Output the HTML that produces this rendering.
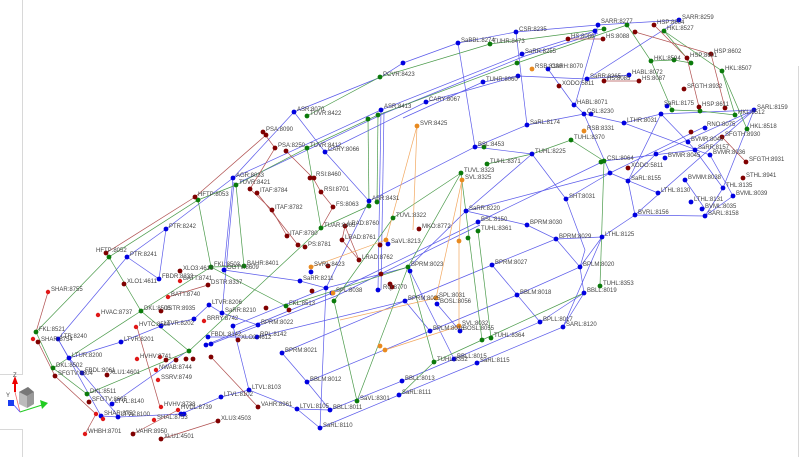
<!DOCTYPE html>
<html><head><meta charset="utf-8"><style>
html,body{margin:0;padding:0;background:#fff;width:800px;height:457px;overflow:hidden}
svg{display:block}
text{font-family:"Liberation Sans",sans-serif;font-size:6px;fill:#444}
.b{stroke:#5a5aea;stroke-width:.7;fill:none}
.g{stroke:#4a9a4a;stroke-width:.7;fill:none}
.r{stroke:#b05050;stroke-width:.7;fill:none}
.o{stroke:#f2a860;stroke-width:.7;fill:none}
.nb{fill:#0000e0}.ng{fill:#0a7a0a}.nr{fill:#800000}.nR{fill:#e01818}.no{fill:#e88a20}
.nb circle,.ng circle,.nr circle,.no circle{r:2.4px}
</style></head><body>
<svg width="800" height="457" viewBox="0 0 800 457" xmlns="http://www.w3.org/2000/svg">
<g stroke="#d8d8d8" stroke-width="1" fill="none">
<path d="M22.5 0 V374.5 H0"/>
<path d="M0 429.5 H22.5 V457"/>
<path d="M798.5 66 V457"/>
</g>
<g>
<polygon points="19,392 28,387 34,392 34,404 27,408 19,404" fill="#bbb"/>
<polygon points="19,392 28,387 34,392 27,396" fill="#777"/>
<polygon points="27,396 34,392 34,404 27,408" fill="#999"/>
<line x1="15" y1="392" x2="15" y2="382" stroke="#e00" stroke-width="2"/>
<polygon points="12,384 18,384 15,376" fill="#e00"/>
<line x1="15" y1="392" x2="20" y2="412" stroke="#e66" stroke-width=".8"/>
<line x1="20" y1="412" x2="42" y2="405" stroke="#2c2" stroke-width="1"/>
<polygon points="40,400 48,403 42,409" fill="#2c2"/>
<line x1="13" y1="404" x2="20" y2="412" stroke="#55f" stroke-width=".8"/>
<rect x="8" y="400" width="6" height="6" fill="#1a3cf0"/>
<text x="13" y="377">Z</text><text x="6" y="397">Y</text>
</g>

<g class="b">
<polyline points="294,112 381,77 403,63 458,43 516,32 598,25 679,20"/>
<polyline points="58,339 127,257 166,229 233,178 294,112"/>
<polyline points="233,178 381,110 522,54 595,31"/>
<polyline points="240,182 385,113 525,56 598,33"/>
<polyline points="325,152 426,102 518,76 587,79 629,75"/>
<polyline points="403,118 483,82 518,76"/>
<polyline points="294,112 325,152 369,201 475,147 527,125 584,114 624,123 661,114 754,110"/>
<polyline points="369,201 326,288 320,428"/>
<line x1="381" y1="110" x2="378" y2="290"/>
<line x1="384" y1="112" x2="381" y2="290"/>
<line x1="233" y1="178" x2="224" y2="270"/>
<line x1="234" y1="182" x2="222" y2="313"/>
<polyline points="166,229 159,279 127,257"/>
<polyline points="69,358 121,342 161,326 194,319 209,305 222,313 258,325"/>
<polyline points="58,339 69,358 82,373 119,417"/>
<line x1="58" y1="339" x2="101" y2="416"/>
<polyline points="224,270 300,281 326,288 409,267 466,211 610,173 704,127"/>
<polyline points="206,345 332,293 478,222 604,161 695,150 754,110"/>
<polyline points="211,344 336,296 480,225"/>
<polyline points="233,326 326,288"/>
<polyline points="208,337 257,337 405,301"/>
<polyline points="282,353 405,301 492,265 556,239 602,237 635,215"/>
<polyline points="307,382 430,331 517,295 580,267 602,237"/>
<polyline points="330,410 402,381 454,359 540,322 584,293"/>
<polyline points="320,428 399,395 477,363 563,327 602,237"/>
<polyline points="563,327 584,293 580,267 556,239 527,225 466,211"/>
<polyline points="492,265 540,322"/>
<polyline points="410,271 454,359"/>
<polyline points="405,301 430,331"/><polyline points="437,304 460,331"/>
<polyline points="233,326 249,390 297,409 320,428"/>
<polyline points="282,353 307,382 330,410"/>
<polyline points="297,409 330,410"/>
<polyline points="249,390 221,397 181,414 119,417 101,416"/>
<polyline points="112,404 186,352"/>
<polyline points="458,43 475,147"/>
<polyline points="516,32 527,125"/>
<polyline points="598,25 575,105 584,114 610,173"/>
<polyline points="532,154 475,147"/>
<polyline points="466,211 532,154 566,199 610,173"/>
<polyline points="566,199 585,250 580,267"/>
<polyline points="628,181 635,215 705,216 733,196"/>
<polyline points="628,181 661,114"/>
<polyline points="658,193 610,173"/>
<polyline points="685,180 705,209"/>
<polyline points="688,142 695,150 723,188 705,216"/>
<polyline points="754,110 723,188"/>
<polyline points="754,110 635,215"/>
<polyline points="754,110 656,154 628,181"/>
<polyline points="624,123 710,155 733,196"/>
<polyline points="661,114 688,142"/>
<polyline points="587,79 679,20"/>
<polyline points="548,69 574,105"/>
</g>

<g class="g">
<polyline points="307,116 380,77 490,44 604,29"/>
<polyline points="236,185 307,148 378,115 517,63 627,25"/>
<polyline points="36,332 109,257 198,200 236,185"/>
<polyline points="36,332 53,368 87,394"/>
<polyline points="109,257 141,311 189,351"/>
<polyline points="53,368 141,311 211,267 244,266"/>
<polyline points="198,200 211,267 286,306"/>
<polyline points="236,185 244,266"/>
<polyline points="87,394 189,351"/>
<polyline points="307,148 321,228"/>
<polyline points="368,119 369,206"/><polyline points="378,115 377,202"/>
<polyline points="189,351 321,228 369,206"/>
<polyline points="334,301 357,401"/>
<polyline points="357,401 408,267 461,173"/>
<polyline points="400,395 434,362 482,340 584,293"/>
<polyline points="461,173 393,218 334,301"/>
<polyline points="461,173 482,340"/><polyline points="478,231 491,338"/>
<polyline points="487,164 532,154 571,140 604,161"/>
<polyline points="604,161 600,286"/>
<polyline points="408,267 434,362"/>
<polyline points="627,25 651,61 672,110"/>
<polyline points="664,31 722,71 747,129"/>
<polyline points="664,31 691,63 674,60 651,61"/>
<polyline points="672,110 700,111 735,115 722,71"/>
<polyline points="286,306 408,267"/>
</g>

<g class="r">
<polyline points="106,253 195,197 266,135"/>
<polyline points="263,132 275,148 250,189 272,210 287,236"/>
<polyline points="257,193 298,245"/>
<polyline points="286,151 313,178 321,192 333,207 321,228"/>
<polyline points="345,226 342,240 359,260 345,226"/>
<polyline points="568,39 603,39"/><polyline points="604,81 639,81"/>
<polyline points="635,32 711,54 725,108"/>
<polyline points="654,25 687,58 699,107"/>
<polyline points="722,137 746,162"/>
<polyline points="48,292 36,332"/>
<polyline points="38,342 55,376 96,414"/>
<polyline points="137,327 160,407"/>
<polyline points="208,285 168,297"/>
<polyline points="211,357 258,407"/>
<polyline points="133,434 178,410"/>
<polyline points="85,434 96,414"/>
<polyline points="161,439 218,421"/>
</g>

<g class="o">
<polyline points="417,126 386,240 311,267"/>
<polyline points="417,126 413,230"/>
<polyline points="462,180 459,241 459,326"/>
<polyline points="462,180 436,298"/>
<polyline points="340,320 436,298"/>
<polyline points="385,350 459,326"/>
</g>

<g class="nb">
<circle cx="294" cy="112" r="2.4"/><circle cx="381" cy="110" r="2.4"/><circle cx="325" cy="152" r="2.4"/>
<circle cx="233" cy="178" r="2.4"/><circle cx="369" cy="201" r="2.4"/><circle cx="166" cy="229" r="2.4"/>
<circle cx="403" cy="63" r="2.4"/><circle cx="458" cy="43" r="2.4"/><circle cx="516" cy="32" r="2.4"/>
<circle cx="598" cy="25" r="2.4"/><circle cx="679" cy="20" r="2.4"/><circle cx="595" cy="31" r="2.4"/>
<circle cx="522" cy="54" r="2.4"/><circle cx="548" cy="69" r="2.4"/><circle cx="518" cy="76" r="2.4"/>
<circle cx="483" cy="82" r="2.4"/><circle cx="587" cy="79" r="2.4"/><circle cx="629" cy="75" r="2.4"/>
<circle cx="426" cy="102" r="2.4"/><circle cx="574" cy="105" r="2.4"/><circle cx="584" cy="114" r="2.4"/>
<circle cx="591" cy="114" r="2.4"/><circle cx="624" cy="123" r="2.4"/><circle cx="661" cy="114" r="2.4"/>
<circle cx="667" cy="106" r="2.4"/><circle cx="754" cy="110" r="2.4"/><circle cx="527" cy="125" r="2.4"/>
<circle cx="705" cy="128" r="2.4"/><circle cx="688" cy="142" r="2.4"/><circle cx="695" cy="150" r="2.4"/>
<circle cx="656" cy="154" r="2.4"/><circle cx="665" cy="158" r="2.4"/><circle cx="710" cy="155" r="2.4"/>
<circle cx="475" cy="147" r="2.4"/><circle cx="532" cy="154" r="2.4"/><circle cx="610" cy="173" r="2.4"/>
<circle cx="628" cy="181" r="2.4"/><circle cx="685" cy="180" r="2.4"/><circle cx="566" cy="199" r="2.4"/>
<circle cx="658" cy="193" r="2.4"/><circle cx="723" cy="188" r="2.4"/><circle cx="733" cy="196" r="2.4"/>
<circle cx="691" cy="202" r="2.4"/><circle cx="702" cy="209" r="2.4"/><circle cx="705" cy="216" r="2.4"/>
<circle cx="635" cy="215" r="2.4"/><circle cx="466" cy="211" r="2.4"/><circle cx="478" cy="222" r="2.4"/>
<circle cx="527" cy="225" r="2.4"/><circle cx="556" cy="239" r="2.4"/><circle cx="602" cy="237" r="2.4"/>
<circle cx="580" cy="267" r="2.4"/><circle cx="584" cy="293" r="2.4"/><circle cx="492" cy="265" r="2.4"/>
<circle cx="517" cy="295" r="2.4"/><circle cx="540" cy="322" r="2.4"/><circle cx="563" cy="327" r="2.4"/>
<circle cx="437" cy="304" r="2.4"/><circle cx="460" cy="331" r="2.4"/><circle cx="430" cy="331" r="2.4"/>
<circle cx="405" cy="301" r="2.4"/><circle cx="454" cy="359" r="2.4"/><circle cx="477" cy="363" r="2.4"/>
<circle cx="402" cy="381" r="2.4"/><circle cx="399" cy="395" r="2.4"/><circle cx="410" cy="271" r="2.4"/>
<circle cx="127" cy="257" r="2.4"/><circle cx="159" cy="279" r="2.4"/><circle cx="224" cy="270" r="2.4"/>
<circle cx="209" cy="305" r="2.4"/><circle cx="222" cy="313" r="2.4"/><circle cx="194" cy="319" r="2.4"/>
<circle cx="161" cy="326" r="2.4"/><circle cx="58" cy="339" r="2.4"/><circle cx="121" cy="342" r="2.4"/>
<circle cx="69" cy="358" r="2.4"/><circle cx="208" cy="337" r="2.4"/><circle cx="233" cy="326" r="2.4"/>
<circle cx="257" cy="337" r="2.4"/><circle cx="258" cy="325" r="2.4"/><circle cx="82" cy="373" r="2.4"/>
<circle cx="206" cy="345" r="2.4"/><circle cx="211" cy="344" r="2.4"/><circle cx="282" cy="353" r="2.4"/>
<circle cx="112" cy="404" r="2.4"/><circle cx="249" cy="390" r="2.4"/><circle cx="221" cy="397" r="2.4"/>
<circle cx="101" cy="416" r="2.4"/><circle cx="118" cy="417" r="2.4"/><circle cx="181" cy="414" r="2.4"/>
<circle cx="184" cy="414" r="2.4"/><circle cx="307" cy="382" r="2.4"/><circle cx="297" cy="409" r="2.4"/>
<circle cx="330" cy="410" r="2.4"/><circle cx="320" cy="428" r="2.4"/><circle cx="300" cy="281" r="2.4"/>
<circle cx="326" cy="288" r="2.4"/><circle cx="332" cy="293" r="2.4"/><circle cx="388" cy="244" r="2.4"/>
<circle cx="378" cy="290" r="2.4"/><circle cx="311" cy="272" r="2.4"/>
</g>
<g class="ng">
<circle cx="307" cy="116" r="2.4"/><circle cx="307" cy="148" r="2.4"/><circle cx="236" cy="185" r="2.4"/>
<circle cx="198" cy="200" r="2.4"/><circle cx="380" cy="77" r="2.4"/><circle cx="368" cy="119" r="2.4"/>
<circle cx="378" cy="115" r="2.4"/><circle cx="369" cy="206" r="2.4"/><circle cx="377" cy="202" r="2.4"/>
<circle cx="321" cy="228" r="2.4"/><circle cx="490" cy="44" r="2.4"/><circle cx="517" cy="63" r="2.4"/>
<circle cx="604" cy="29" r="2.4"/><circle cx="627" cy="25" r="2.4"/><circle cx="664" cy="31" r="2.4"/>
<circle cx="651" cy="61" r="2.4"/><circle cx="674" cy="60" r="2.4"/><circle cx="691" cy="63" r="2.4"/>
<circle cx="722" cy="71" r="2.4"/><circle cx="672" cy="110" r="2.4"/><circle cx="700" cy="111" r="2.4"/>
<circle cx="735" cy="115" r="2.4"/><circle cx="747" cy="129" r="2.4"/><circle cx="484" cy="147" r="2.4"/>
<circle cx="487" cy="164" r="2.4"/><circle cx="571" cy="140" r="2.4"/><circle cx="601" cy="162" r="2.4"/>
<circle cx="604" cy="161" r="2.4"/><circle cx="461" cy="173" r="2.4"/><circle cx="393" cy="218" r="2.4"/>
<circle cx="468" cy="238" r="2.4"/><circle cx="478" cy="231" r="2.4"/><circle cx="408" cy="267" r="2.4"/>
<circle cx="600" cy="286" r="2.4"/><circle cx="482" cy="340" r="2.4"/><circle cx="491" cy="338" r="2.4"/>
<circle cx="434" cy="362" r="2.4"/><circle cx="357" cy="401" r="2.4"/><circle cx="334" cy="301" r="2.4"/>
<circle cx="109" cy="257" r="2.4"/><circle cx="211" cy="267" r="2.4"/><circle cx="244" cy="266" r="2.4"/>
<circle cx="141" cy="311" r="2.4"/><circle cx="36" cy="332" r="2.4"/><circle cx="53" cy="368" r="2.4"/>
<circle cx="189" cy="351" r="2.4"/><circle cx="87" cy="394" r="2.4"/><circle cx="286" cy="306" r="2.4"/>
</g>
<g class="nr">
<circle cx="263" cy="132" r="2.4"/><circle cx="266" cy="135" r="2.4"/><circle cx="275" cy="148" r="2.4"/>
<circle cx="286" cy="151" r="2.4"/><circle cx="250" cy="189" r="2.4"/><circle cx="257" cy="193" r="2.4"/>
<circle cx="310" cy="178" r="2.4"/><circle cx="314" cy="178" r="2.4"/><circle cx="321" cy="192" r="2.4"/>
<circle cx="272" cy="210" r="2.4"/><circle cx="333" cy="207" r="2.4"/><circle cx="195" cy="197" r="2.4"/>
<circle cx="345" cy="226" r="2.4"/><circle cx="342" cy="240" r="2.4"/><circle cx="359" cy="260" r="2.4"/>
<circle cx="287" cy="236" r="2.4"/><circle cx="298" cy="245" r="2.4"/><circle cx="305" cy="247" r="2.4"/>
<circle cx="328" cy="266" r="2.4"/><circle cx="380" cy="245" r="2.4"/><circle cx="312" cy="291" r="2.4"/>
<circle cx="381" cy="274" r="2.4"/><circle cx="390" cy="284" r="2.4"/><circle cx="392" cy="287" r="2.4"/>
<circle cx="419" cy="229" r="2.4"/><circle cx="568" cy="39" r="2.4"/><circle cx="603" cy="39" r="2.4"/>
<circle cx="635" cy="32" r="2.4"/><circle cx="654" cy="25" r="2.4"/><circle cx="687" cy="58" r="2.4"/>
<circle cx="711" cy="54" r="2.4"/><circle cx="559" cy="86" r="2.4"/><circle cx="604" cy="81" r="2.4"/>
<circle cx="639" cy="81" r="2.4"/><circle cx="684" cy="89" r="2.4"/><circle cx="699" cy="107" r="2.4"/>
<circle cx="725" cy="108" r="2.4"/><circle cx="691" cy="132" r="2.4"/><circle cx="722" cy="137" r="2.4"/>
<circle cx="746" cy="162" r="2.4"/><circle cx="743" cy="178" r="2.4"/><circle cx="628" cy="168" r="2.4"/>
<circle cx="106" cy="253" r="2.4"/><circle cx="180" cy="271" r="2.4"/><circle cx="124" cy="284" r="2.4"/>
<circle cx="208" cy="285" r="2.4"/><circle cx="161" cy="311" r="2.4"/><circle cx="38" cy="342" r="2.4"/>
<circle cx="238" cy="340" r="2.4"/><circle cx="55" cy="376" r="2.4"/><circle cx="107" cy="375" r="2.4"/>
<circle cx="166" cy="360" r="2.4"/><circle cx="176" cy="360" r="2.4"/><circle cx="186" cy="359" r="2.4"/>
<circle cx="193" cy="359" r="2.4"/><circle cx="211" cy="357" r="2.4"/><circle cx="89" cy="402" r="2.4"/>
<circle cx="258" cy="407" r="2.4"/><circle cx="218" cy="421" r="2.4"/><circle cx="133" cy="434" r="2.4"/>
<circle cx="161" cy="439" r="2.4"/><circle cx="266" cy="308" r="2.4"/><circle cx="289" cy="310" r="2.4"/>
</g>
<g class="nR">
<circle cx="48" cy="292" r="2.2"/><circle cx="98" cy="315" r="2.2"/><circle cx="33" cy="339" r="2.2"/>
<circle cx="180" cy="281" r="2.2"/><circle cx="168" cy="297" r="2.2"/><circle cx="204" cy="321" r="2.2"/>
<circle cx="136" cy="327" r="2.2"/><circle cx="137" cy="359" r="2.2"/><circle cx="160" cy="357" r="2.2"/>
<circle cx="156" cy="370" r="2.2"/><circle cx="158" cy="380" r="2.2"/><circle cx="161" cy="407" r="2.2"/>
<circle cx="178" cy="410" r="2.2"/><circle cx="96" cy="414" r="2.2"/><circle cx="103" cy="419" r="2.2"/>
<circle cx="154" cy="420" r="2.2"/><circle cx="85" cy="434" r="2.2"/>
</g>
<g class="no">
<circle cx="417" cy="126" r="2.4"/><circle cx="462" cy="180" r="2.4"/><circle cx="532" cy="69" r="2.4"/>
<circle cx="584" cy="131" r="2.4"/><circle cx="386" cy="240" r="2.4"/><circle cx="311" cy="267" r="2.4"/>
<circle cx="333" cy="293" r="2.4"/><circle cx="459" cy="241" r="2.4"/><circle cx="436" cy="298" r="2.4"/>
<circle cx="459" cy="326" r="2.4"/><circle cx="385" cy="350" r="2.4"/><circle cx="380" cy="346" r="2.4"/>
</g>

<g>
<text x="297" y="111">ASR:8070</text><text x="310" y="115">TUVR:8422</text>
<text x="266" y="131">PSA:8090</text><text x="278" y="147">PSA:8250</text>
<text x="310" y="147">TUVR:8412</text><text x="328" y="151">CARY:8066</text>
<text x="236" y="177">AGR:8033</text><text x="239" y="184">TUVR:8421</text>
<text x="260" y="192">ITAF:8784</text><text x="316" y="176">RSI:8460</text><text x="324" y="191">RSI:8701</text>
<text x="275" y="209">ITAF:8782</text><text x="336" y="206">FS:8063</text>
<text x="372" y="200">ASR:8431</text><text x="198" y="196">HFTP:8053</text><text x="169" y="228">PTR:8242</text>
<text x="383" y="76">PCVR:8423</text><text x="384" y="108">ASR:8413</text>
<text x="324" y="227">TUAR:8405</text><text x="348" y="225">LRAD:8760</text>
<text x="345" y="239">LRAD:8761</text><text x="362" y="259">LRAD:8762</text>
<text x="290" y="235">ITAF:8780</text><text x="308" y="246">PS:8781</text>
<text x="601" y="23">SARR:8277</text><text x="682" y="19">SARR:8259</text>
<text x="657" y="24">HSP:8604</text><text x="667" y="30">HKL:8527</text>
<text x="519" y="31">CSR:8235</text><text x="461" y="42">SaBBL:8274</text><text x="493" y="43">TUHR:8473</text>
<text x="571" y="38">HS:8086</text><text x="606" y="38">HS:8088</text>
<text x="525" y="53">SaRR:8255</text><text x="535" y="68">RSB:8330</text><text x="551" y="68">CARH:8070</text>
<text x="486" y="81">TUHR:8060</text><text x="562" y="85">XODO:5811</text><text x="590" y="78">SaRR:8265</text>
<text x="632" y="74">HABL:8072</text><text x="607" y="80">HS:8085</text><text x="642" y="80">HS:8087</text>
<text x="654" y="60">HKL:8594</text><text x="690" y="57">HSP:8601</text><text x="714" y="53">HSP:8602</text>
<text x="725" y="70">HKL:8507</text><text x="687" y="88">SFGTH:8932</text>
<text x="429" y="101">CARY:8067</text><text x="577" y="104">HABL:8071</text><text x="587" y="113">CSL:8230</text>
<text x="627" y="122">LTHR:8031</text><text x="664" y="105">SaRL:8175</text><text x="702" y="106">HSP:8611</text>
<text x="738" y="114">HKL:8512</text><text x="757" y="109">SARL:8159</text>
<text x="530" y="124">SaRL:8174</text><text x="587" y="130">RSB:8331</text><text x="574" y="139">TUHL:8370</text>
<text x="750" y="128">HKL:8518</text><text x="707" y="126">RNO:8075</text><text x="691" y="141">BVMR:8040</text>
<text x="725" y="136">SFGTH:8930</text><text x="749" y="161">SFGTH:8931</text><text x="713" y="154">BVMR:8036</text>
<text x="668" y="157">BVMR:8045</text><text x="698" y="149">SaRR:8157</text>
<text x="478" y="146">BSL:8453</text><text x="490" y="163">TUHL:8371</text><text x="535" y="153">TUHL:8225</text>
<text x="607" y="160">CSL:8064</text><text x="631" y="167">XODO:5811</text><text x="631" y="180">SaRL:8155</text>
<text x="688" y="179">BVMM:8038</text><text x="746" y="177">STHL:8941</text>
<text x="464" y="172">TUVL:8323</text><text x="465" y="179">SVL:8325</text><text x="569" y="198">SHT:8031</text>
<text x="661" y="192">LTHL:8130</text><text x="726" y="187">THL:8135</text><text x="736" y="195">BVML:8039</text>
<text x="694" y="201">LTHL:8131</text><text x="705" y="208">BVML:8035</text><text x="708" y="215">SARL:8158</text>
<text x="638" y="214">BVRL:8156</text><text x="469" y="210">SaRR:8220</text><text x="481" y="221">BSL:8150</text>
<text x="422" y="228">MKO:8772</text><text x="420" y="125">SVR:8425</text><text x="396" y="217">TUVL:8322</text>
<text x="530" y="224">BPRM:8030</text><text x="559" y="238">BPRM:8029</text><text x="605" y="236">LTHL:8125</text>
<text x="583" y="266">BPLM:8020</text><text x="603" y="285">TUHL:8353</text><text x="587" y="292">BBLL:8019</text>
<text x="495" y="264">BPRM:8027</text><text x="520" y="294">BBLM:8018</text><text x="543" y="321">BPLL:8017</text>
<text x="566" y="326">SARL:8120</text><text x="439" y="297">SPL:8031</text><text x="440" y="303">BOSL:8056</text>
<text x="462" y="325">SVL:8032</text><text x="463" y="330">BOSL:8055</text><text x="408" y="300">BPRM:8025</text>
<text x="433" y="330">BPLM:8016</text><text x="494" y="337">TUHL:8364</text><text x="437" y="361">TUHL:8352</text>
<text x="457" y="358">BBLL:8015</text><text x="480" y="362">SaRL:8115</text><text x="405" y="380">BBLL:8013</text>
<text x="402" y="394">SaRL:8111</text><text x="481" y="230">TUHL:8361</text><text x="411" y="266">BPRM:8023</text>
<text x="130" y="256">PTR:8241</text><text x="96" y="252">HFTP:8052</text><text x="183" y="270">XLO3:4613</text>
<text x="183" y="280">BATT:8741</text><text x="127" y="283">XLO1:4611</text><text x="162" y="278">FBDR:8232</text>
<text x="214" y="266">FKL:8503</text><text x="227" y="269">OGTV:8609</text><text x="247" y="265">BAHR:8401</text>
<text x="211" y="284">DSTR:8337</text><text x="171" y="296">BATT:8740</text><text x="51" y="291">SHAR:8755</text>
<text x="101" y="314">HVAC:8737</text><text x="144" y="310">DKL:8505</text><text x="164" y="310">DSTR:8935</text>
<text x="212" y="304">LTVR:8206</text><text x="225" y="312">SaRR:8210</text><text x="207" y="320">BRRY:8742</text>
<text x="139" y="326">HVTC:8540</text><text x="164" y="325">LTVR:8202</text><text x="39" y="331">FKL:8521</text>
<text x="41" y="341">SHAR:8754</text><text x="61" y="338">LTR:8240</text><text x="124" y="341">LTVR:8201</text>
<text x="72" y="357">LTUR:8200</text><text x="211" y="336">FBDL:8142</text><text x="241" y="339">XLO2:4612</text>
<text x="260" y="336">RPL:8142</text><text x="261" y="324">BPRM:8022</text><text x="56" y="367">DKL:8502</text>
<text x="58" y="375">SFGTV:8604</text><text x="85" y="372">FBDL:8061</text><text x="110" y="374">XLU1:4601</text>
<text x="140" y="358">HVHV:8741</text><text x="159" y="369">NWAB:8744</text><text x="161" y="379">SSRV:8749</text>
<text x="285" y="352">BPRM:8021</text><text x="90" y="393">DKL:8511</text><text x="92" y="401">SFGTV:8605</text>
<text x="115" y="403">LTVL:8140</text><text x="252" y="389">LTVL:8103</text><text x="224" y="396">LTVL:8102</text>
<text x="261" y="406">VAHR:8961</text><text x="164" y="406">HVHV:8738</text><text x="181" y="409">HVDL:8739</text>
<text x="104" y="415">SHAR:8752</text><text x="121" y="416">LTVL:8100</text><text x="157" y="419">SHAL:8753</text>
<text x="221" y="420">XLU3:4503</text><text x="88" y="433">WHBH:8701</text><text x="136" y="433">VAHR:8950</text>
<text x="164" y="438">XLU1:4501</text><text x="310" y="381">BBLM:8012</text><text x="300" y="408">LTVL:8105</text>
<text x="333" y="409">BBLL:8011</text><text x="323" y="427">SaRL:8110</text><text x="360" y="400">SaVL:8301</text>
<text x="303" y="280">SaRR:8211</text><text x="314" y="266">SVRL:8423</text><text x="289" y="305">FKL:8513</text>
<text x="391" y="243">SaVL:8213</text><text x="336" y="292">SPL:8038</text><text x="383" y="289">RQ:8770</text>
</g>
</svg>
</body></html>
